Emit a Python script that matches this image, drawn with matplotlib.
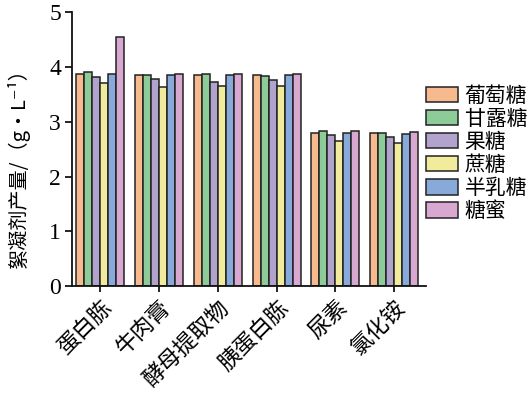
import matplotlib
matplotlib.use("Agg")
import matplotlib.pyplot as plt
import numpy as np

categories = ["蛋白胨", "牛肉膏", "酵母提取物", "胰蛋白胨", "尿素", "氯化铵"]
series_names = ["葡萄糖", "甘露糖", "果糖", "蔗糖", "半乳糖", "糖蜜"]
glucose = [3.88, 3.86, 3.85, 3.86, 2.80, 2.79]
mannose = [3.90, 3.86, 3.87, 3.83, 2.83, 2.80]
fructose = [3.81, 3.78, 3.73, 3.76, 2.75, 2.73]
sucrose = [3.70, 3.64, 3.65, 3.65, 2.64, 2.62]
galactose = [3.88, 3.85, 3.85, 3.86, 2.79, 2.78]
molasses = [4.54, 3.88, 3.88, 3.88, 2.83, 2.82]
series = [glucose, mannose, fructose, sucrose, galactose, molasses]
colors = ["#F6BA8E", "#8DCC98", "#B1A3CE", "#F1EC9C", "#88AADA", "#D9A8D0"]
yticks = [0, 1, 2, 3, 4, 5]

cjk = ["Noto Sans CJK SC", "DejaVu Sans"]
serif = ["Liberation Serif", "DejaVu Serif"]

fig = plt.figure(figsize=(5.3, 3.93), dpi=100)
ax = fig.add_axes([0.136, 0.272, 0.668, 0.697])

x = np.arange(len(categories))
w = 0.136
for i, (vals, c, name) in enumerate(zip(series, colors, series_names)):
    ax.bar(x + (i - 2.5) * w, vals, width=w, color=c, edgecolor="#222222",
           linewidth=1.1, label=name)

ax.set_xlim(-0.476, 5.544)
ax.set_ylim(0, 5)
ax.set_yticks(yticks)
ax.set_yticklabels([str(t) for t in yticks], family=serif, fontsize=17)
ax.set_xticks(x)
ax.set_xticklabels(categories, family=cjk, fontsize=16, rotation=45,
                   ha="right", va="top", rotation_mode="anchor")
ax.tick_params(axis="y", direction="out", length=5, width=1.2, pad=3)
ax.tick_params(axis="x", direction="out", length=4, width=1.2, pad=3)
for s in ["top", "right"]:
    ax.spines[s].set_visible(False)
for s in ["left", "bottom"]:
    ax.spines[s].set_linewidth(1.3)
    ax.spines[s].set_color("#111111")

ax.set_ylabel("絮凝剂产量/（g•L⁻¹）", family=cjk, fontsize=14.5)
ax.yaxis.set_label_coords(-0.12, 0.45)

leg = ax.legend(loc="upper left", bbox_to_anchor=(1.0, 0.735), frameon=False,
                prop={"family": cjk, "size": 15}, handlelength=1.55,
                handleheight=0.78, labelspacing=0.05, handletextpad=0.3,
                borderaxespad=0, borderpad=0)

fig.savefig("out.png", dpi=100)
